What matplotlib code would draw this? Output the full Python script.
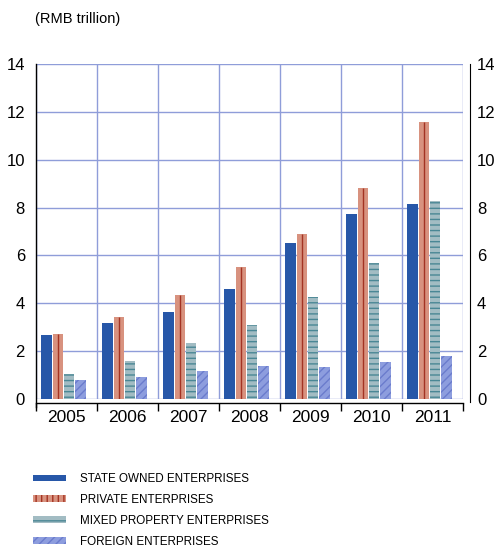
import matplotlib
matplotlib.use("Agg")
import matplotlib.pyplot as plt
from matplotlib.patches import Patch
import numpy as np

years = ["2005", "2006", "2007", "2008", "2009", "2010", "2011"]
state_owned = [2.67, 3.17, 3.63, 4.58, 6.53, 7.75, 8.17]
private = [2.70, 3.42, 4.33, 5.50, 6.91, 8.83, 11.58]
mixed = [1.04, 1.58, 2.33, 3.08, 4.25, 5.69, 8.26]
foreign = [0.80, 0.92, 1.17, 1.38, 1.33, 1.53, 1.81]
labels = ["STATE OWNED ENTERPRISES", "PRIVATE ENTERPRISES",
          "MIXED PROPERTY ENTERPRISES", "FOREIGN ENTERPRISES"]
yticks = [0, 2, 4, 6, 8, 10, 12, 14]

plt.rcParams['font.family'] = ['Liberation Sans', 'DejaVu Sans']
plt.rcParams['hatch.linewidth'] = 1.0

W, H = 495, 549
fig = plt.figure(figsize=(W / 100, H / 100), dpi=100)
ax = fig.add_axes([36 / W, 1 - 399 / H, (463 - 36) / W, (399 - 64) / H])

x = np.arange(len(years))
bw = 0.172
offs = [-0.328, -0.142, 0.044, 0.230]

c_soe = "#2757a8"
c_priv = "#d8927f"
c_priv_line = "#a33323"
c_mix = "#a2bcc3"
c_mix_line = "#4a8795"
c_for = "#8d9dde"
c_for_line = "#6a7ccd"
grid_c = "#8f9dd9"

ax.bar(x + offs[0], state_owned, bw, color=c_soe, linewidth=0, zorder=3)
ax.bar(x + offs[1], private, bw, color=c_priv, linewidth=0, zorder=3)
ax.vlines(x + offs[1], 0, private, color=c_priv_line, linewidth=1.0, zorder=4)
ax.bar(x + offs[2], mixed, bw, facecolor=c_mix, edgecolor=c_mix_line,
       hatch='---', linewidth=0, zorder=3)
ax.bar(x + offs[3], foreign, bw, facecolor=c_for, edgecolor=c_for_line,
       hatch='////', linewidth=0, zorder=3)

ax.set_xlim(-0.5, len(years) - 0.5)
ax.set_ylim(0, 14)

# grid
ax.set_yticks(yticks)
ax.set_xticks(np.arange(len(years) + 1) - 0.5)
ax.set_xticklabels([])
ax.set_xticks(x, minor=True)
ax.set_xticklabels(years, minor=True)
ax.grid(True, which='major', color=grid_c, linewidth=1.0, zorder=0)
ax.set_axisbelow(True)

ax.tick_params(axis='x', which='major', direction='out', length=6, width=1,
               color='black')
ax.tick_params(axis='x', which='minor', length=0, pad=5, labelsize=12.5)
ax.tick_params(axis='y', length=0, pad=8, labelsize=12)

ax.spines['top'].set_visible(False)
ax.spines['right'].set_visible(False)
ax.spines['bottom'].set_position(('outward', 3))
ax.spines['left'].set_bounds(-0.35, 14)
for s in ['left', 'bottom']:
    ax.spines[s].set_color('black')
    ax.spines[s].set_linewidth(1.0)

ax2 = ax.twinx()
ax2.set_ylim(0, 14)
ax2.set_yticks(yticks)
ax2.tick_params(axis='y', length=0, pad=5, labelsize=12)
for s in ['top', 'left', 'bottom']:
    ax2.spines[s].set_visible(False)
ax2.spines['right'].set_position(('outward', 5))
ax2.spines['right'].set_color('black')
ax2.spines['right'].set_bounds(-0.12, 14)

fig.text(35 / W, 1 - 19 / H, "(RMB trillion)", fontsize=10.5,
         ha='left', va='center')

handles = [
    Patch(facecolor=c_soe, linewidth=0),
    Patch(facecolor=c_priv, edgecolor=c_priv_line, hatch='|||', linewidth=0),
    Patch(facecolor=c_mix, edgecolor=c_mix_line, hatch='--', linewidth=0),
    Patch(facecolor=c_for, edgecolor=c_for_line, hatch='////', linewidth=0),
]
fig.legend(handles, labels, loc='upper left',
           bbox_to_anchor=(33 / W, 1 - 473 / H),
           frameon=False, borderpad=0, borderaxespad=0,
           handlelength=2.85, handleheight=0.5, handletextpad=1.2,
           labelspacing=0.76,
           prop={'size': 8.4})

fig.savefig("out.png", dpi=100)
